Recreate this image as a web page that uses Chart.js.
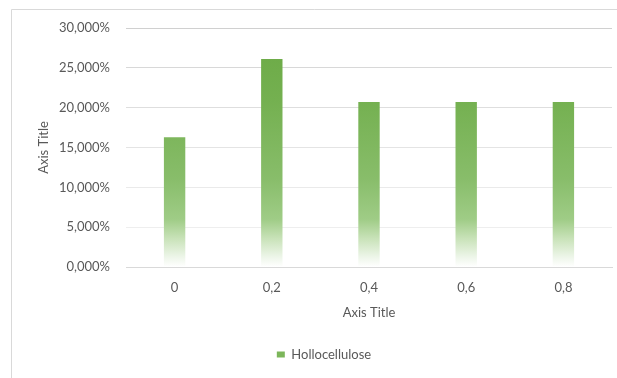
<!DOCTYPE html>
<html>
<head>
<meta charset="utf-8">
<script src="https://cdn.jsdelivr.net/npm/chart.js@4/dist/chart.umd.min.js"></script>
<style>
  html, body { margin: 0; padding: 0; background: #ffffff; }
  #wrap { position: relative; width: 617px; height: 378px; }
</style>
</head>
<body>
<div id="wrap"><canvas id="c" width="617" height="378"></canvas></div>
<script>
// Categories (x axis) and series values (percent)
const categories = ['0', '0,2', '0,4', '0,6', '0,8'];
const hollocellulose = [16.3, 26.1, 20.7, 20.7, 20.7];
const yTicks = [0, 5, 10, 15, 20, 25, 30];

const seriesName = 'Hollocellulose';
const axisTitleX = 'Axis Title';
const axisTitleY = 'Axis Title';

const textColor = '#595959';
const axisColor = '#d9d9d9';
const fontFamily = 'Lato, "Open Sans", sans-serif';

function formatPercent(v) {
  return v.toFixed(3).replace('.', ',') + '%';
}

// Gridlines get lighter towards the baseline
function gridShade(ctx) {
  const v = ctx.tick ? ctx.tick.value : 0;
  const shades = { 0: '#d9d9d9', 5: '#eeeeee', 10: '#eaeaea', 15: '#e4e4e4', 20: '#dedede', 25: '#d8d8d8', 30: '#d0d0d0' };
  return shades[v] || '#d9d9d9';
}

// Green fading to white towards the baseline
function barFill(ctx) {
  const chart = ctx.chart;
  const area = chart.chartArea;
  if (!area) return '#70ad47';
  const g = chart.ctx.createLinearGradient(0, area.top, 0, area.bottom);
  g.addColorStop(0.00, '#6aa944');
  g.addColorStop(0.30, '#74b050');
  g.addColorStop(0.63, '#88bd6a');
  g.addColorStop(0.80, '#9fcc86');
  g.addColorStop(0.88, '#c8e2b8');
  g.addColorStop(0.96, '#eef6ea');
  g.addColorStop(1.00, '#ffffff');
  return g;
}

// Thin frame around the chart
const framePlugin = {
  id: 'frame',
  beforeDraw(chart) {
    const c = chart.ctx;
    c.save();
    c.fillStyle = '#ffffff';
    c.fillRect(0, 0, chart.width, chart.height);
    c.strokeStyle = '#d9d9d9';
    c.lineWidth = 1;
    c.beginPath();
    c.moveTo(11.5, chart.height + 2);
    c.lineTo(11.5, 9.5);
    c.lineTo(chart.width + 2, 9.5);
    c.stroke();
    c.restore();
  }
};

new Chart(document.getElementById('c'), {
  type: 'bar',
  data: {
    labels: categories,
    datasets: [{
      label: seriesName,
      data: hollocellulose,
      backgroundColor: barFill,
      borderWidth: 0,
      categoryPercentage: 1,
      barPercentage: 0.22
    }]
  },
  options: {
    responsive: false,
    animation: false,
    devicePixelRatio: 1,
    layout: { padding: { left: 36, right: 5, top: 28, bottom: 7 } },
    plugins: {
      tooltip: { enabled: false },
      legend: {
        position: 'bottom',
        labels: {
          color: textColor,
          font: { family: fontFamily, size: 13 },
          boxWidth: 8,
          boxHeight: 6,
          padding: 10,
          generateLabels(chart) {
            return [{
              text: seriesName,
              fillStyle: '#7cb65a',
              strokeStyle: '#7cb65a',
              lineWidth: 0,
              fontColor: textColor,
              datasetIndex: 0,
              hidden: false
            }];
          }
        }
      }
    },
    scales: {
      x: {
        grid: { display: false, drawTicks: false },
        border: { display: true, color: axisColor, width: 1 },
        ticks: {
          color: textColor,
          font: { family: fontFamily, size: 13 },
          padding: 13,
          maxRotation: 0
        },
        title: {
          display: true,
          text: axisTitleX,
          color: textColor,
          font: { family: fontFamily, size: 13 },
          padding: { top: 4, bottom: 17 }
        },
        afterFit(scale) { scale.height = 71; }
      },
      y: {
        min: 0,
        max: 30,
        afterBuildTicks(scale) {
          scale.ticks = yTicks.map(v => ({ value: v }));
        },
        grid: { color: gridShade, drawTicks: false },
        border: { display: false },
        ticks: {
          color: textColor,
          font: { family: fontFamily, size: 13 },
          padding: 16,
          callback: v => formatPercent(v)
        },
        title: {
          display: true,
          text: axisTitleY,
          color: textColor,
          font: { family: fontFamily, size: 13 },
          padding: { top: 0, bottom: 0 }
        },
        afterFit(scale) { scale.width = 90; }
      }
    }
  },
  plugins: [framePlugin]
});
</script>
</body>
</html>
